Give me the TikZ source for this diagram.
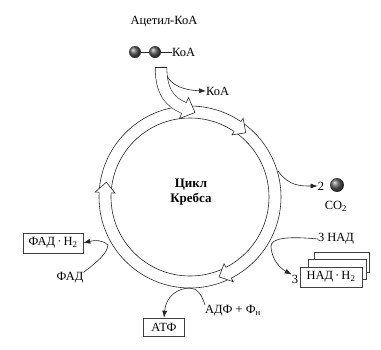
\documentclass[tikz,border=0pt]{standalone}
\usepackage{fontspec}
\setmainfont{Liberation Serif}
\usetikzlibrary{arrows.meta}

\begin{document}
\begin{tikzpicture}[x=1pt,y=-1pt,
  line/.style={line width=0.6pt, draw=black!85},
  branch/.style={line, -{Latex[length=7pt,width=5pt]}},
  lbl/.style={font=\fontsize{12.5}{14}\selectfont, inner sep=0pt},
  box/.style={draw=black!75, line width=0.6pt, fill=white, inner sep=1pt,
    font=\fontsize{12.5}{14}\selectfont},
  sphere/.style={circle, inner sep=0pt, shading=ball, ball color=black!65}]
\useasboundingbox (0,0) rectangle (381,349);

% the cycle: a hollow ring
\coordinate (C) at (190,197);
\draw[line] (C) circle[radius=91pt];
\draw[line] (C) circle[radius=79pt];

% hollow arrow heads along the ring, pointing clockwise
\begin{scope}[shift={(C)}]
  \foreach \a in {56,-63,177} {
    \fill[white] (\a:95pt) -- (\a-7:85pt) -- (\a:75pt) -- cycle;
    \draw[line] (\a:91pt) -- (\a:95pt) -- (\a-7:85pt) -- (\a:75pt) -- (\a:79pt);
  }
\end{scope}

% centre label
\node[font=\fontsize{13}{15}\selectfont\bfseries, align=center] (krebs) at (191,192)
  {Цикл\\Кребса};

% acetyl-CoA entering the cycle
\node[lbl] (acetyl) at (164,22) {Ацетил-КоА};
\node[sphere, minimum size=12pt] (b1) at (135,52) {};
\node[sphere, minimum size=12pt] (b2) at (155,52) {};
\node[lbl, anchor=west] (koa1) at (172,52) {КоА};
\draw[line] (b1) -- (b2);
\draw[line] (b2) -- (koa1.west);

% broad hollow arrow into the ring
\coordinate (s0) at (161,67);
\coordinate (s1) at (184,108);
\draw[line width=0.6pt, draw=black!85, double=white, double distance=11pt]
  (s0) .. controls (161,92) and (170,102) .. (s1);
\coordinate (cap1) at (155.2,67);
\coordinate (cap2) at (166.8,67);
\draw[line] (cap1) -- (cap2);
\coordinate (hb1) at (188.5,97.5);
\coordinate (hb2) at (179.5,118.5);
\coordinate (ht) at (195,112.5);
\coordinate (he1) at (186.2,102.9);
\coordinate (he2) at (181.8,113.1);
\fill[white] (hb1) -- (ht) -- (hb2) -- cycle;
\draw[line] (he1) -- (hb1) -- (ht) -- (hb2) -- (he2);

% CoA released
\node[lbl, anchor=west] (koa2) at (206,91) {КоА};
\coordinate (koaout) at (167,76);
\draw[branch] (koaout) .. controls (172,85) and (182,90) .. (koa2.west);

% CO2 released
\node[lbl] (two) at (321,186) {2};
\node[sphere, minimum size=14pt] (co2ball) at (337,185) {};
\node[lbl] (co2) at (336,206) {CO\textsubscript{2}};
\coordinate (co2out) at (278,171);
\draw[branch] (co2out) .. controls (289,186) and (300,186) .. (two.west);

% NAD reduced
\node[lbl] (nad) at (336,239) {3 НАД};
\node[box, minimum width=55pt, minimum height=20pt] (nadb3) at (342,262) {};
\node[box, minimum width=58pt, minimum height=20pt] (nadb2) at (337,269) {};
\node[box, minimum width=62pt, minimum height=20pt] (nadh) at (331,277)
  {НАД\,·\,Н\textsubscript{2}};
\node[lbl] (three) at (295,279) {3};
\coordinate (nadj) at (271,247);
\draw[line] (nad.west) .. controls (288,236) and (270,238) .. (nadj);
\draw[branch] (nadj) .. controls (272,260) and (280,268) .. (three.north west);

% FAD reduced
\node[box, minimum width=60pt, minimum height=20pt] (fadh) at (53,243)
  {ФАД\,·\,Н\textsubscript{2}};
\node[lbl] (fad) at (70,278) {ФАД};
\coordinate (fadj) at (108,245);
\draw[line] (fad.north east) .. controls (97,262) and (107,254) .. (fadj);
\draw[branch] (fadj) .. controls (103,240) and (95,240) .. (fadh.east);

% ATP formed
\node[box, minimum width=41pt, minimum height=18pt] (atp) at (164,327) {АТФ};
\node[lbl] (adp) at (233,311) {АДФ + Ф\textsubscript{н}};
\coordinate (atpj) at (190,288);
\coordinate (adpin) at (205,305);
\draw[line] (adpin) .. controls (202,295) and (197,288) .. (atpj);
\draw[branch] (atpj) .. controls (178,288) and (166,296) .. (atp.north);
\end{tikzpicture}
\end{document}
